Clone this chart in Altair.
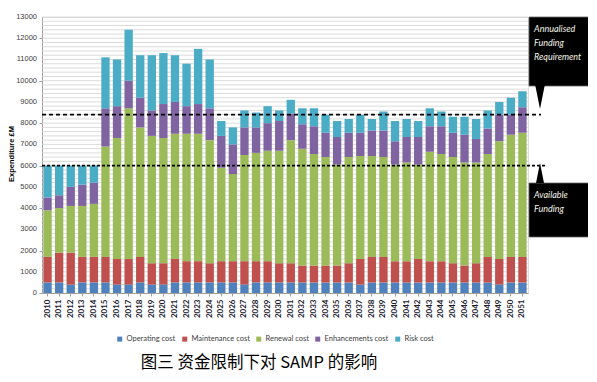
import altair as alt
import pandas as pd

years = [str(y) for y in range(2010, 2052)]

operating = [500, 500, 400, 500, 500, 500, 400, 400, 500, 400,
             400, 500, 500, 500, 500, 500, 500, 400, 500, 500,
             500, 500, 500, 500, 500, 500, 500, 400, 500, 500,
             500, 500, 500, 500, 500, 500, 500, 500, 500, 400,
             500, 500]
maintenance = [1200, 1400, 1500, 1200, 1200, 1200, 1200, 1200, 1200, 1000,
               1000, 1100, 1000, 1000, 900, 1000, 1000, 1100, 1000, 1000,
               900, 900, 800, 800, 800, 800, 900, 1200, 1200, 1200,
               1000, 1000, 1100, 1000, 1000, 900, 800, 900, 1200, 1200,
               1200, 1200]
renewal = [2200, 2100, 2200, 2400, 2500, 5200, 5700, 7100, 6100, 6000,
           5900, 5900, 6000, 6000, 5800, 4400, 4100, 5000, 5100, 5200,
           5300, 5800, 5500, 5250, 5100, 4750, 5000, 4850, 4750, 4700,
           4550, 4650, 4450, 5150, 5050, 5000, 4850, 4750, 4850, 5550,
           5750, 5850]
enhancements = [600, 600, 900, 1000, 1000, 1800, 1500, 1300, 1400, 1200,
                1600, 1500, 1300, 1400, 1500, 1500, 1400, 1300, 1200, 1300,
                1400, 1250, 1150, 1300, 1150, 1300, 1150, 1100, 1200, 1250,
                1100, 1200, 1300, 1200, 1300, 1150, 1300, 1100, 1200, 1250,
                950, 1200]
risk = [1500, 1400, 1000, 900, 800, 2400, 2200, 2400, 2000, 2600,
        2400, 2200, 2000, 2600, 2300, 700, 800, 800, 700, 800,
        500, 650, 750, 850, 850, 750, 650, 850, 550, 900,
        950, 850, 750, 850, 700, 750, 850, 950, 850, 600,
        800, 750]

series_names = ["Operating cost", "Maintenance cost", "Renewal cost",
                "Enhancements cost", "Risk cost"]
series_values = [operating, maintenance, renewal, enhancements, risk]
colors = ["#4F81BD", "#C0504D", "#9BBB59", "#8064A2", "#4BACC6"]

annualised_requirement = [8400]
available_funding = [6000]
y_ticks = list(range(0, 13001, 1000))
y_tick_labels = [str(v) for v in y_ticks]
minor_grid = list(range(200, 13001, 200))

y_title = "Expenditure £M"
caption = "图三  资金限制下对 SAMP 的影响"
box1_lines = ["Annualised", "Funding", "Requirement"]
box2_lines = ["Available", "Funding"]

rows = []
for i, (name, vals) in enumerate(zip(series_names, series_values)):
    for yr, v in zip(years, vals):
        rows.append({"Year": yr, "Series": name, "Value": v, "ord": i})
df = pd.DataFrame(rows)

W, H = 486, 276
yscale = alt.Scale(domain=[0, 13000], nice=False, zero=True)
xscale = alt.Scale(paddingInner=0.28, paddingOuter=0.12)
NARROW = "Lato"

y_axis = alt.Axis(title=None, values=y_ticks, grid=False, labels=False,
                  domainColor="#a0a0a0", tickColor="#a0a0a0", tickSize=3)

grid = alt.Chart(pd.DataFrame({"v": minor_grid})).mark_rule(
    color="#d2d2d2", strokeWidth=0.8
).encode(y=alt.Y("v:Q", scale=yscale, axis=y_axis))

bars = alt.Chart(df).mark_bar().encode(
    x=alt.X("Year:O", scale=xscale, sort=years,
            axis=alt.Axis(title=None, labelAngle=270, labelFont=NARROW,
                          labelFontSize=8, labelFontWeight="bold",
                          labelColor="#1a1a2e", domainColor="#a0a0a0",
                          tickColor="#a0a0a0", tickSize=3, labelPadding=3)),
    y=alt.Y("Value:Q", stack="zero", scale=yscale, axis=y_axis),
    color=alt.Color("Series:N", scale=alt.Scale(domain=series_names, range=colors),
                    legend=alt.Legend(title=None, orient="none", legendX=74,
                                      legendY=318, direction="horizontal",
                                      symbolType="square", symbolSize=25,
                                      symbolStrokeWidth=0, labelFont=NARROW,
                                      labelFontSize=7.5, labelColor="#404040",
                                      columnPadding=5, labelOffset=3)),
    order=alt.Order("ord:Q", sort="ascending"),
)

ylabels = alt.Chart(pd.DataFrame({"v": y_ticks, "t": y_tick_labels})).mark_text(
    align="right", baseline="middle", font="Liberation Sans", fontSize=7.5,
    color="#404040"
).encode(y=alt.Y("v:Q", scale=yscale), x=alt.value(-5), text="t:N")

ytitle = alt.Chart(pd.DataFrame({"t": [y_title]})).mark_text(
    align="center", baseline="middle", font="Liberation Sans", fontSize=7.5,
    fontWeight="bold", color="#000000", angle=270
).encode(x=alt.value(-30), y=alt.value(H / 2 - 1), text="t:N")

line_req = alt.Chart(pd.DataFrame({"v": annualised_requirement})).mark_rule(
    color="#000000", strokeWidth=1.6, strokeDash=[4, 3]
).encode(y=alt.Y("v:Q", scale=yscale), x=alt.value(0), x2=alt.value(499))

line_avail = alt.Chart(pd.DataFrame({"v": available_funding})).mark_rule(
    color="#000000", strokeWidth=1.6, strokeDash=[3, 2]
).encode(y=alt.Y("v:Q", scale=yscale), x=alt.value(0), x2=alt.value(504))

one = pd.DataFrame({"k": [0]})
box1 = alt.Chart(one).mark_rect(color="#000000", stroke="#666666", strokeWidth=0.8).encode(
    x=alt.value(487), x2=alt.value(547), y=alt.value(0), y2=alt.value(69))
box2 = alt.Chart(one).mark_rect(color="#000000", stroke="#666666", strokeWidth=0.8).encode(
    x=alt.value(487), x2=alt.value(547), y=alt.value(166), y2=alt.value(220))

tri1 = alt.Chart(one).mark_point(
    shape="M-0.4,-1L0.4,-1L0,1Z", filled=True, color="#000000", opacity=1, size=576
).encode(x=alt.value(498), y=alt.value(80))
tri2 = alt.Chart(one).mark_point(
    shape="M-0.4,1L0.4,1L0,-1Z", filled=True, color="#000000", opacity=1, size=400
).encode(x=alt.value(498), y=alt.value(156))

def text_line(t, y):
    return alt.Chart(pd.DataFrame({"t": [t]})).mark_text(
        align="left", baseline="middle", font=NARROW, fontSize=9,
        fontStyle="italic", color="#f4f4e8"
    ).encode(x=alt.value(492), y=alt.value(y), text="t:N")

texts = [text_line(t, 12 + 14 * i) for i, t in enumerate(box1_lines)]
texts += [text_line(t, 178 + 14 * i) for i, t in enumerate(box2_lines)]

cap = alt.Chart(pd.DataFrame({"t": [caption]})).mark_text(
    align="center", baseline="alphabetic", font="Noto Sans CJK SC", fontSize=16.5,
    color="#000000"
).encode(x=alt.value(217), y=alt.value(351), text="t:N")

chart = alt.layer(
    grid, bars, ylabels, ytitle, line_req, line_avail, box1, box2, tri1, tri2,
    *texts, cap
).resolve_scale(y="shared").properties(
    width=W, height=H,
    autosize=alt.AutoSizeParams(type="none"),
    padding={"left": 34, "top": 9, "right": 60, "bottom": 81},
).configure_view(stroke=None).configure(background="#ffffff")

chart.save("out.html", embed_options={"renderer": "svg", "actions": False})
